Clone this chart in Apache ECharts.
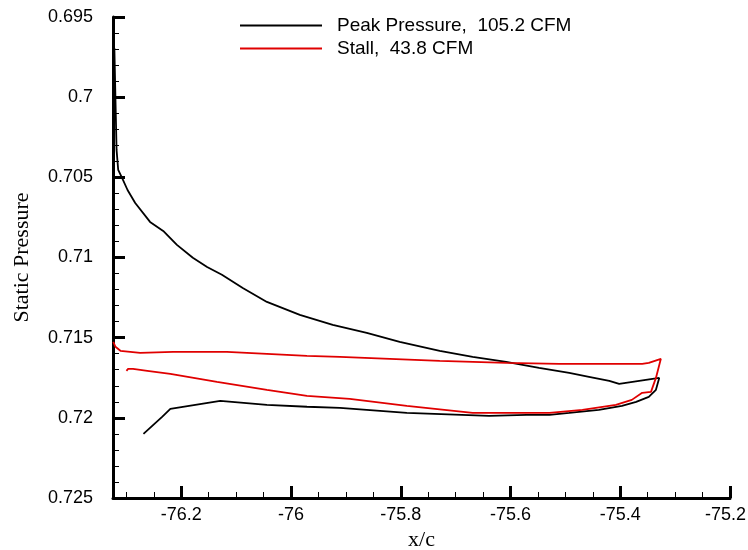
<!DOCTYPE html>
<html>
<head>
<meta charset="utf-8">
<script src="https://cdn.jsdelivr.net/npm/echarts@6/dist/echarts.min.js"></script>
<style>
  html, body { margin: 0; padding: 0; background: #fff; }
  #main { width: 748px; height: 550px; }
</style>
</head>
<body>
<div id="main"></div>
<script>
// Peak pressure loop: [x/c, static pressure]
var peakPressure = [
  [-76.322, 0.69693], [-76.320, 0.70017], [-76.318, 0.70329], [-76.315, 0.70454],
  [-76.308, 0.70504], [-76.298, 0.70579], [-76.284, 0.7066], [-76.257, 0.70778],
  [-76.233, 0.70834], [-76.208, 0.70921], [-76.179, 0.71002], [-76.153, 0.71059],
  [-76.126, 0.71108], [-76.088, 0.7119], [-76.044, 0.71277], [-75.984, 0.71358],
  [-75.924, 0.7142], [-75.862, 0.7147], [-75.802, 0.71526], [-75.729, 0.71582],
  [-75.669, 0.7162], [-75.608, 0.71651], [-75.548, 0.71688], [-75.493, 0.7172],
  [-75.457, 0.71744], [-75.420, 0.71769], [-75.402, 0.71788], [-75.329, 0.71751],
  [-75.335, 0.71825], [-75.348, 0.71869], [-75.371, 0.719], [-75.397, 0.71925],
  [-75.439, 0.7195], [-75.493, 0.71969], [-75.529, 0.71981], [-75.571, 0.71981],
  [-75.639, 0.71988], [-75.789, 0.71969], [-75.911, 0.71938], [-75.971, 0.71931],
  [-76.044, 0.71919], [-76.129, 0.71894], [-76.220, 0.71944], [-76.235, 0.71994],
  [-76.269, 0.721]
];

// Stall loop
var stall = [
  [-76.324, 0.71526], [-76.320, 0.71557], [-76.311, 0.71582], [-76.275, 0.71595],
  [-76.215, 0.71589], [-76.117, 0.71589], [-76.044, 0.71601], [-75.971, 0.71613],
  [-75.911, 0.7162], [-75.729, 0.71645], [-75.608, 0.71657], [-75.511, 0.71663],
  [-75.475, 0.71663], [-75.360, 0.71663], [-75.348, 0.71657], [-75.326, 0.71632],
  [-75.335, 0.71751], [-75.344, 0.71838], [-75.360, 0.71844], [-75.379, 0.71888],
  [-75.408, 0.71919], [-75.469, 0.7195], [-75.529, 0.71969], [-75.669, 0.71969],
  [-75.789, 0.71925], [-75.893, 0.71882], [-75.971, 0.71863], [-76.044, 0.71825],
  [-76.135, 0.71776], [-76.220, 0.71726], [-76.262, 0.71707], [-76.288, 0.71695],
  [-76.297, 0.71695], [-76.300, 0.71707]
];

var xMajorTicks = [-76.2, -76, -75.8, -75.6, -75.4, -75.2];
var xMinorTicks = [-76.3, -76.25, -76.15, -76.1, -76.05, -75.95, -75.9, -75.85,
  -75.75, -75.7, -75.65, -75.55, -75.5, -75.45, -75.35, -75.3, -75.25];

var myChart = echarts.init(document.getElementById('main'));

var sans = 'Liberation Sans';
var serif = 'Liberation Serif';

var option = {
  animation: false,
  backgroundColor: '#fff',
  grid: { left: 113, right: 18, top: 17, bottom: 52, containLabel: false, outerBoundsMode: 'none' },
  legend: {
    orient: 'vertical',
    left: 240,
    top: 16,
    padding: 0,
    itemWidth: 82,
    itemHeight: 2,
    itemGap: 4,
    textStyle: { fontFamily: sans, fontSize: 19, color: '#000', lineHeight: 19, padding: [0, 0, 0, 10] },
    data: [
      { name: 'Peak Pressure,  105.2 CFM', icon: 'rect' },
      { name: 'Stall,  43.8 CFM', icon: 'rect' }
    ]
  },
  xAxis: [{
    type: 'value',
    min: -76.3245,
    max: -75.2,
    name: 'x/c',
    nameLocation: 'middle',
    nameGap: 30,
    nameTextStyle: { fontFamily: serif, fontSize: 22, color: '#000' },
    splitLine: { show: false },
    axisLine: { onZero: false, lineStyle: { color: '#000', width: 3 } },
    axisTick: { inside: true, length: 12, lineStyle: { color: '#000', width: 3 }, customValues: xMajorTicks },
    axisLabel: {
      customValues: xMajorTicks,
      margin: 8,
      fontFamily: sans, fontSize: 18, color: '#000',
      formatter: function (v) {
        // keep the last label inside the page
        return v === -75.2 ? '{last|' + v + '}' : String(v);
      },
      rich: {
        last: { fontFamily: sans, fontSize: 18, color: '#000', padding: [0, 9, 0, 0] }
      }
    }
  }, {
    type: 'value',
    position: 'bottom',
    min: -76.3245,
    max: -75.2,
    splitLine: { show: false },
    axisLine: { show: false },
    axisTick: { inside: true, length: 6, lineStyle: { color: '#000', width: 1 }, customValues: xMinorTicks },
    axisLabel: { show: false }
  }],
  yAxis: {
    type: 'value',
    inverse: true,
    min: 0.695,
    max: 0.725,
    interval: 0.005,
    name: 'Static Pressure',
    nameLocation: 'middle',
    nameGap: 80,
    nameTextStyle: { fontFamily: serif, fontSize: 22, color: '#000' },
    splitLine: { show: false },
    axisLine: { onZero: false, lineStyle: { color: '#000', width: 3 } },
    axisTick: { inside: true, length: 12, lineStyle: { color: '#000', width: 3 } },
    minorTick: { show: true, splitNumber: 5, length: 6, lineStyle: { color: '#000', width: 1 } },
    axisLabel: { margin: 20, fontFamily: sans, fontSize: 18, color: '#000' }
  },
  series: [{
    name: 'Peak Pressure,  105.2 CFM',
    type: 'line',
    data: peakPressure,
    symbol: 'none',
    lineStyle: { color: '#000', width: 1.8 },
    itemStyle: { color: '#000' }
  }, {
    name: 'Stall,  43.8 CFM',
    type: 'line',
    data: stall,
    symbol: 'none',
    lineStyle: { color: '#e00000', width: 1.8 },
    itemStyle: { color: '#e00000' }
  }]
};

myChart.setOption(option);
</script>
</body>
</html>
